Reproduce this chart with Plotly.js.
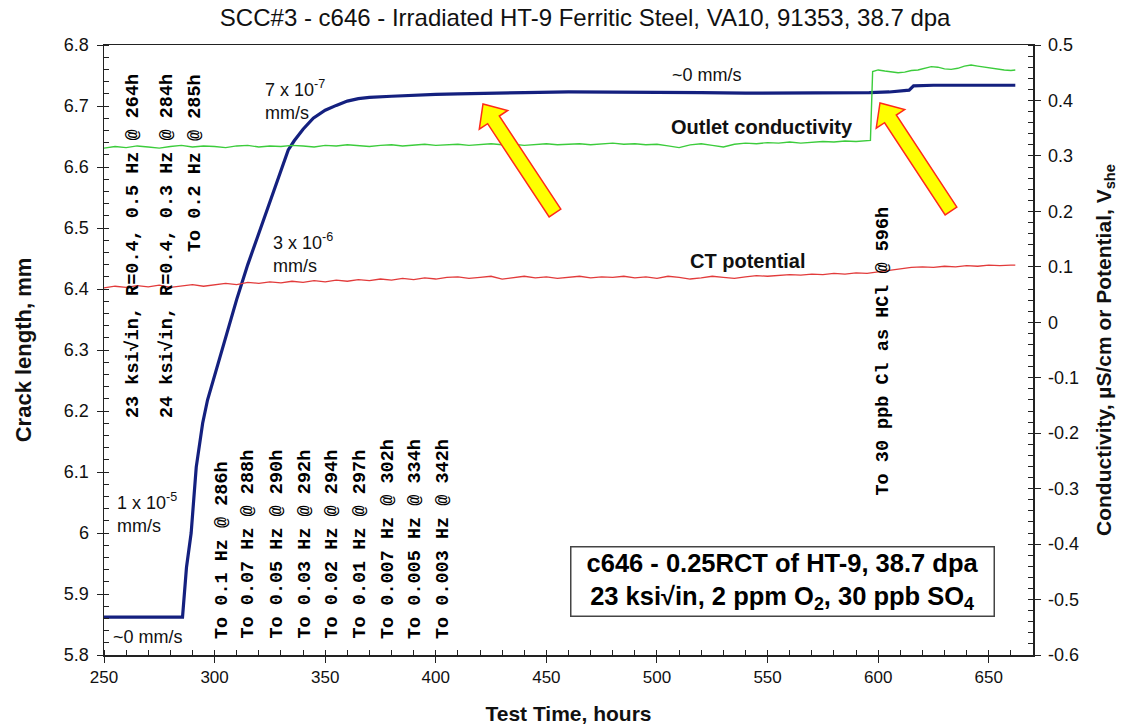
<!DOCTYPE html>
<html><head><meta charset="utf-8">
<script src="https://cdn.plot.ly/plotly-3.0.1.min.js"></script>
<style>body{margin:0;background:#fff}</style>
</head><body>
<div id="chart" style="width:1121px;height:726px"></div>
<script>
// ---- Data ----
const crackTime = [250, 260, 270, 280, 285.5, 287.3, 289.4, 291.7, 294.6, 296.8, 300, 305, 310, 315, 320, 325, 330, 333.3, 336, 340, 344.6, 350, 355, 360, 365, 370, 380, 390, 400, 410, 420, 440, 460, 480, 500, 520, 540, 560, 580, 596, 605, 614, 616, 625, 640, 662];
const crackLength = [5.862, 5.862, 5.862, 5.862, 5.862, 5.944, 6.0, 6.108, 6.18, 6.218, 6.258, 6.32, 6.383, 6.44, 6.492, 6.544, 6.597, 6.628, 6.643, 6.662, 6.68, 6.693, 6.701, 6.708, 6.712, 6.714, 6.716, 6.718, 6.719, 6.72, 6.721, 6.722, 6.723, 6.723, 6.722, 6.722, 6.721, 6.721, 6.721, 6.722, 6.723, 6.726, 6.733, 6.734, 6.734, 6.734];

const condTime = [250, 255, 260, 265, 270, 275, 280, 285, 290, 295, 300, 305, 310, 315, 320, 325, 330, 335, 340, 345, 350, 355, 360, 365, 370, 375, 380, 385, 390, 395, 400, 405, 410, 415, 420, 425, 430, 435, 440, 445, 450, 455, 460, 465, 470, 475, 480, 485, 490, 495, 500, 505, 510, 515, 520, 525, 530, 535, 540, 545, 550, 555, 560, 565, 570, 575, 580, 585, 590, 595, 596.5, 597.5, 600, 603, 606, 609, 612, 615, 618, 621, 624, 627, 630, 633, 636, 639, 642, 645, 648, 651, 654, 657, 660, 662];
const conductivity = [0.314, 0.317, 0.315, 0.318, 0.316, 0.314, 0.317, 0.319, 0.316, 0.318, 0.317, 0.315, 0.318, 0.319, 0.316, 0.318, 0.317, 0.319, 0.318, 0.316, 0.319, 0.318, 0.320, 0.318, 0.317, 0.319, 0.320, 0.318, 0.319, 0.321, 0.319, 0.320, 0.321, 0.319, 0.320, 0.322, 0.320, 0.321, 0.319, 0.321, 0.322, 0.320, 0.321, 0.322, 0.320, 0.321, 0.323, 0.321, 0.322, 0.320, 0.321, 0.318, 0.315, 0.320, 0.322, 0.319, 0.316, 0.321, 0.323, 0.322, 0.324, 0.323, 0.325, 0.323, 0.325, 0.326, 0.325, 0.327, 0.326, 0.327, 0.328, 0.452, 0.455, 0.453, 0.452, 0.450, 0.451, 0.454, 0.455, 0.458, 0.461, 0.460, 0.457, 0.456, 0.458, 0.462, 0.464, 0.462, 0.460, 0.458, 0.456, 0.455, 0.454, 0.455];

const potTime = [250, 255, 260, 265, 270, 275, 280, 285, 290, 295, 300, 305, 310, 315, 320, 325, 330, 335, 340, 345, 350, 355, 360, 365, 370, 375, 380, 385, 390, 395, 400, 405, 410, 415, 420, 425, 430, 435, 440, 445, 450, 455, 460, 465, 470, 475, 480, 485, 490, 495, 500, 505, 510, 515, 520, 525, 530, 535, 540, 545, 550, 555, 560, 565, 570, 575, 580, 585, 590, 595, 600, 605, 610, 615, 620, 625, 630, 635, 640, 645, 650, 655, 660, 662];
const potential = [0.062, 0.065, 0.063, 0.066, 0.064, 0.067, 0.063, 0.066, 0.068, 0.065, 0.067, 0.070, 0.068, 0.072, 0.070, 0.073, 0.071, 0.074, 0.072, 0.075, 0.073, 0.076, 0.074, 0.077, 0.075, 0.078, 0.076, 0.079, 0.077, 0.080, 0.078, 0.081, 0.082, 0.079, 0.081, 0.083, 0.078, 0.081, 0.083, 0.080, 0.082, 0.079, 0.081, 0.083, 0.080, 0.082, 0.081, 0.083, 0.080, 0.082, 0.079, 0.083, 0.081, 0.078, 0.080, 0.083, 0.081, 0.079, 0.082, 0.084, 0.083, 0.085, 0.086, 0.085, 0.087, 0.086, 0.088, 0.087, 0.089, 0.088, 0.091, 0.093, 0.097, 0.099, 0.100, 0.099, 0.101, 0.100, 0.102, 0.101, 0.103, 0.102, 0.103, 0.103];

const rightTickVals = [0.5, 0.4, 0.3, 0.2, 0.1, 0, -0.1, -0.2, -0.3, -0.4, -0.5, -0.6];
const rightTickText = ['0.5', '0.4', '0.3', '0.2', '0.1', '0', '-0.1', '-0.2', '-0.3', '-0.4', '-0.5', '-0.6'];

const leftNotes = ['23 ksi√in, R=0.4, 0.5 Hz @ 264h', '24 ksi√in, R=0.4, 0.3 Hz @ 284h', 'To 0.2 Hz @ 285h'];
const freqNotes = ['To 0.1 Hz @ 286h', 'To 0.07 Hz @ 288h', 'To 0.05 Hz @ 290h', 'To 0.03 Hz @ 292h', 'To 0.02 Hz @ 294h', 'To 0.01 Hz @ 297h', 'To 0.007 Hz @ 302h', 'To 0.005 Hz @ 334h', 'To 0.003 Hz @ 342h'];

// ---- plot geometry ----
const W = 1121, H = 726;
const PL = 104, PR = 1033, PT = 45, PB = 655;
const XR = [250, 670], YR = [5.8, 6.8], Y2R = [-0.6, 0.5];
function xData(px) { return XR[0] + (px - PL) / (PR - PL) * (XR[1] - XR[0]); }
function yData(py) { return YR[1] - (py - PT) / (PB - PT) * (YR[1] - YR[0]); }

const sans = 'Liberation Sans, Arial, sans-serif';
const mono = 'Liberation Mono, Courier New, monospace';

const traces = [
  {x: condTime, y: conductivity, yaxis: 'y2', mode: 'lines', line: {color: '#3ccc3c', width: 1.4}, name: 'Outlet conductivity'},
  {x: potTime, y: potential, yaxis: 'y2', mode: 'lines', line: {color: '#e23b3b', width: 1.3}, name: 'CT potential'},
  {x: crackTime, y: crackLength, mode: 'lines', line: {color: '#14207f', width: 3.2}, name: 'Crack length'}
];

const noteFont = {family: mono, size: 18.5, color: '#000', weight: 'bold'};
const annotations = [];
const leftPx = [133, 167, 195];
leftNotes.forEach((t, i) => annotations.push({
  x: xData(leftPx[i]), y: yData(72), xref: 'x', yref: 'y', text: t, showarrow: false,
  textangle: -90, xanchor: 'center', yanchor: 'top', font: noteFont
}));
const freqPx = [222, 248, 277, 305, 332, 360, 388, 415, 443];
freqNotes.forEach((t, i) => annotations.push({
  x: xData(freqPx[i]), y: yData(641), xref: 'x', yref: 'y', text: t, showarrow: false,
  textangle: -90, xanchor: 'center', yanchor: 'bottom', font: noteFont
}));
annotations.push({x: xData(883), y: yData(498), xref: 'x', yref: 'y', text: 'To 30 ppb Cl as HCl @ 596h', showarrow: false,
  textangle: -90, xanchor: 'center', yanchor: 'bottom', font: noteFont});

const rateFont = {family: sans, size: 18, color: '#111'};
annotations.push({x: xData(263), y: yData(75), xref: 'x', yref: 'y', text: '7 x 10<sup>-7</sup><br>mm/s', showarrow: false, xanchor: 'left', yanchor: 'top', align: 'left', font: rateFont});
annotations.push({x: xData(271), y: yData(228), xref: 'x', yref: 'y', text: '3 x 10<sup>-6</sup><br>mm/s', showarrow: false, xanchor: 'left', yanchor: 'top', align: 'left', font: rateFont});
annotations.push({x: xData(115), y: yData(488), xref: 'x', yref: 'y', text: '1 x 10<sup>-5</sup><br>mm/s', showarrow: false, xanchor: 'left', yanchor: 'top', align: 'left', font: rateFont});
annotations.push({x: xData(111), y: yData(637), xref: 'x', yref: 'y', text: '~0 mm/s', showarrow: false, xanchor: 'left', yanchor: 'middle', font: rateFont});
annotations.push({x: xData(707), y: yData(75), xref: 'x', yref: 'y', text: '~0 mm/s', showarrow: false, xanchor: 'center', yanchor: 'middle', font: rateFont});
annotations.push({x: xData(762), y: yData(127), xref: 'x', yref: 'y', text: 'Outlet conductivity', showarrow: false, xanchor: 'center', yanchor: 'middle', font: {family: sans, size: 20, color: '#111', weight: 'bold'}});
annotations.push({x: xData(748), y: yData(261), xref: 'x', yref: 'y', text: 'CT potential', showarrow: false, xanchor: 'center', yanchor: 'middle', font: {family: sans, size: 20, color: '#111', weight: 'bold'}});
annotations.push({x: xData(782), y: yData(581.5), xref: 'x', yref: 'y', showarrow: false, xanchor: 'center', yanchor: 'middle',
  text: 'c646 - 0.25RCT of HT-9, 38.7 dpa<br>23 ksi√in, 2 ppm O<sub>2</sub>, 30 ppb SO<sub>4</sub>',
  font: {family: sans, size: 25.5, color: '#000', weight: 'bold'}, bordercolor: '#444', borderwidth: 1.5, borderpad: 1,
  bgcolor: '#fff', width: 420, height: 66});

// block arrows (yellow with red outline)
function arrowPath(tail, tip) {
  const dx = tip[0] - tail[0], dy = tip[1] - tail[1];
  const len = Math.hypot(dx, dy), ux = dx / len, uy = dy / len, nx = -uy, ny = ux;
  const w = 7, hw = 17, hl = 19;
  const neck = [tip[0] - ux * hl, tip[1] - uy * hl];
  const pts = [
    [tail[0] + nx * w, tail[1] + ny * w], [neck[0] + nx * w, neck[1] + ny * w], [neck[0] + nx * hw, neck[1] + ny * hw],
    tip, [neck[0] - nx * hw, neck[1] - ny * hw], [neck[0] - nx * w, neck[1] - ny * w], [tail[0] - nx * w, tail[1] - ny * w]
  ];
  return 'M' + pts.map(p => xData(p[0]) + ',' + yData(p[1])).join(' L') + ' Z';
}
const shapes = [
  {type: 'path', xref: 'x', yref: 'y', path: arrowPath([555, 213], [483, 104]), fillcolor: '#ffff00', line: {color: '#ff2a1a', width: 1.5}},
  {type: 'path', xref: 'x', yref: 'y', path: arrowPath([951, 211], [880, 103]), fillcolor: '#ffff00', line: {color: '#ff2a1a', width: 1.5}}
];

// helper axes that only add the inner half of the major ticks (cross ticks)
const innerTicks = {showgrid: false, zeroline: false, showline: false, showticklabels: false, ticks: 'inside', ticklen: 6, tickcolor: '#222', fixedrange: true};

const layout = {
  width: W, height: H,
  margin: {l: PL, r: W - PR, t: PT, b: H - PB},
  paper_bgcolor: '#fff', plot_bgcolor: '#fff',
  showlegend: false,
  font: {family: sans, color: '#111'},
  title: {text: 'SCC#3 - c646 - Irradiated HT-9 Ferritic Steel, VA10, 91353, 38.7 dpa', x: 0.522, xanchor: 'center', y: 0.976, yanchor: 'middle',
    font: {family: sans, size: 24, color: '#111'}},
  xaxis: {range: XR, dtick: 50, tick0: 250, showgrid: false, zeroline: false, showline: true, linecolor: '#222', linewidth: 1.5,
    mirror: true, ticks: 'outside', ticklen: 6, tickcolor: '#222',
    minor: {dtick: 10, ticks: 'inside', ticklen: 5, tickcolor: '#222'},
    tickfont: {family: sans, size: 17, color: '#111'},
    title: {text: 'Test Time, hours', font: {family: sans, size: 21, color: '#111', weight: 'bold'}, standoff: 20}},
  xaxis2: Object.assign({}, innerTicks, {overlaying: 'x', anchor: 'y', side: 'bottom', range: XR, dtick: 50, tick0: 250, mirror: 'ticks'}),
  yaxis: {range: YR, dtick: 0.1, tick0: 5.8, showgrid: false, zeroline: false, showline: true, linecolor: '#222', linewidth: 1.5,
    ticks: 'outside', ticklen: 6, tickcolor: '#222', ticklabelstandoff: 4,
    minor: {dtick: 0.02, ticks: 'inside', ticklen: 5, tickcolor: '#222'},
    tickfont: {family: sans, size: 18, color: '#111'},
    title: {text: 'Crack length, mm', font: {family: sans, size: 22, color: '#111', weight: 'bold'}, standoff: 26}},
  yaxis3: Object.assign({}, innerTicks, {overlaying: 'y', anchor: 'x', side: 'left', range: YR, dtick: 0.1, tick0: 5.8}),
  yaxis2: {range: Y2R, overlaying: 'y', side: 'right', tickvals: rightTickVals, ticktext: rightTickText,
    showgrid: false, zeroline: false, showline: true, linecolor: '#222', linewidth: 1.5,
    ticks: 'outside', ticklen: 6, tickcolor: '#222', ticklabelstandoff: 4,
    minor: {dtick: 0.02, tick0: 0, ticks: 'inside', ticklen: 5, tickcolor: '#222'},
    tickfont: {family: sans, size: 18, color: '#111'},
    title: {text: 'Conductivity, µS/cm or Potential, V<sub>she</sub>', font: {family: sans, size: 21, color: '#111', weight: 'bold'}, standoff: 18}},
  yaxis4: Object.assign({}, innerTicks, {overlaying: 'y', anchor: 'x', side: 'right', range: Y2R, tickvals: rightTickVals}),
  annotations: annotations,
  shapes: shapes
};

Plotly.newPlot('chart', traces, layout, {staticPlot: true, displayModeBar: false});
</script>
</body></html>
